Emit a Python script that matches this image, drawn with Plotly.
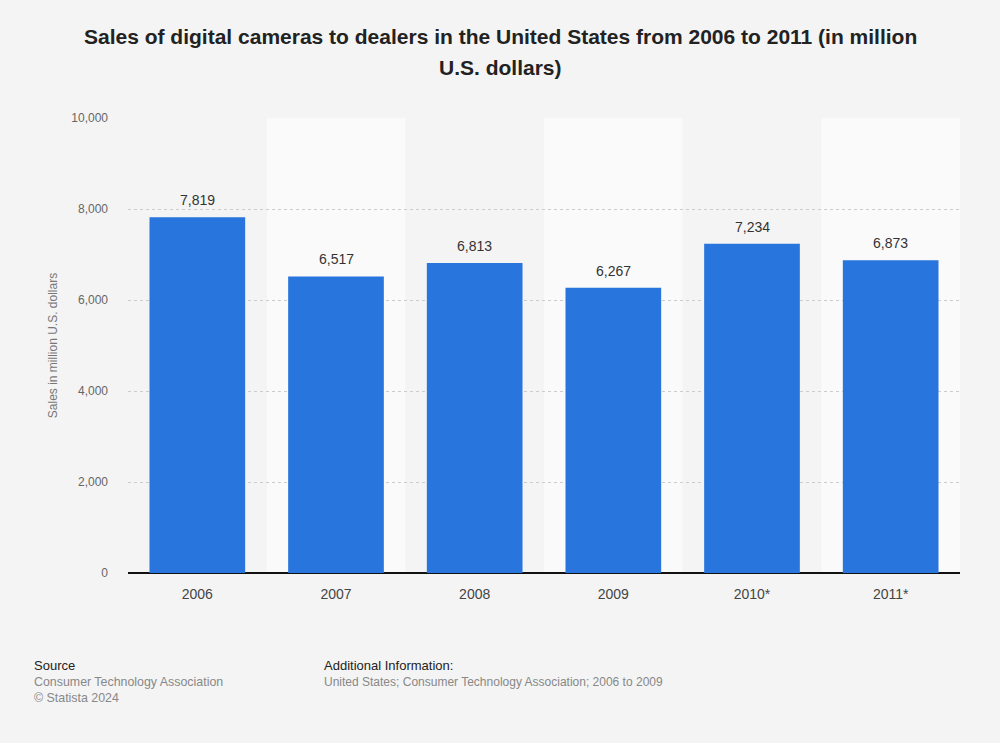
import plotly.graph_objects as go

years = ["2006", "2007", "2008", "2009", "2010*", "2011*"]
sales = [7819, 6517, 6813, 6267, 7234, 6873]
labels = ["7,819", "6,517", "6,813", "6,267", "7,234", "6,873"]
tickvals = [0, 2000, 4000, 6000, 8000, 10000]
ticktext = ["0", "2,000", "4,000", "6,000", "8,000", "10,000"]

FONT = "Liberation Sans, Arial"
W, H = 1000, 743
L, R, T, B = 128, 40, 118, 170

fig = go.Figure(go.Bar(
    x=list(range(len(years))), y=sales,
    marker=dict(color="#2876dd", line=dict(width=0)),
    hoverinfo="skip",
))

for i, (v, t) in enumerate(zip(sales, labels)):
    fig.add_annotation(x=i, y=v, xref="x", yref="y", text=t, showarrow=False,
                       yanchor="bottom", yshift=7,
                       font=dict(size=14, color="#333333", family=FONT))

shapes = []
for i in range(len(years)):
    if i % 2 == 1:
        shapes.append(dict(type="rect", xref="x", yref="paper", x0=i - 0.5, x1=i + 0.5,
                           y0=0, y1=1, fillcolor="#fafafa", line=dict(width=0), layer="below"))

fig.update_layout(
    width=W, height=H,
    paper_bgcolor="#f4f4f4", plot_bgcolor="#f4f4f4",
    margin=dict(l=L, r=R, t=T, b=B),
    bargap=0.31,
    showlegend=False,
    shapes=shapes,
    font=dict(family=FONT, color="#666666"),
    xaxis=dict(tickmode="array", tickvals=list(range(len(years))), ticktext=years,
               range=[-0.5, len(years) - 0.5], showgrid=False, ticks="",
               ticklabelstandoff=11,
               tickfont=dict(size=14, color="#444444"), showline=False, zeroline=False),
    yaxis=dict(range=[0, 10000], tickvals=tickvals, ticktext=ticktext,
               showgrid=True, gridcolor="#cccccc", griddash="dot", gridwidth=1,
               zeroline=True, zerolinecolor="#111111", zerolinewidth=1.5,
               tickfont=dict(size=12, color="#666666"), ticks="", ticklabelstandoff=19,
               title=dict(text="Sales in million U.S. dollars", font=dict(size=12, color="#777777"), standoff=11)),
)

plot_w = W - L - R
plot_h = H - T - B

def px(x):
    return (x - L) / plot_w

def py(y):
    return (H - B - y) / plot_h

title_lines = ["<b>Sales of digital cameras to dealers in the United States from 2006 to 2011 (in million</b>",
               "<b>U.S. dollars)</b>"]
for yy, line in zip([37, 68], title_lines):
    fig.add_annotation(text=line, xref="paper", yref="paper", x=px(500), y=py(yy),
                       xanchor="center", yanchor="middle", showarrow=False,
                       font=dict(size=21, color="#222222", family=FONT))

ann = [
    dict(text="Source", x=32, y=665, color="#222222", size=13),
    dict(text="Consumer Technology Association", x=32, y=682, color="#888888", size=12.4),
    dict(text="© Statista 2024", x=32, y=698, color="#888888", size=12.4),
    dict(text="Additional Information:", x=322, y=665, color="#222222", size=13),
    dict(text="United States; Consumer Technology Association; 2006 to 2009", x=322, y=682, color="#888888", size=12),
]
for a in ann:
    fig.add_annotation(text=a["text"], xref="paper", yref="paper",
                       x=px(a["x"]), y=py(a["y"]),
                       xanchor="left", yanchor="middle", showarrow=False,
                       font=dict(size=a["size"], color=a["color"], family=FONT))

fig.write_html("out.html", config={"displayModeBar": False},
               post_script="document.body.style.margin='0';document.body.style.background='#f4f4f4';")
